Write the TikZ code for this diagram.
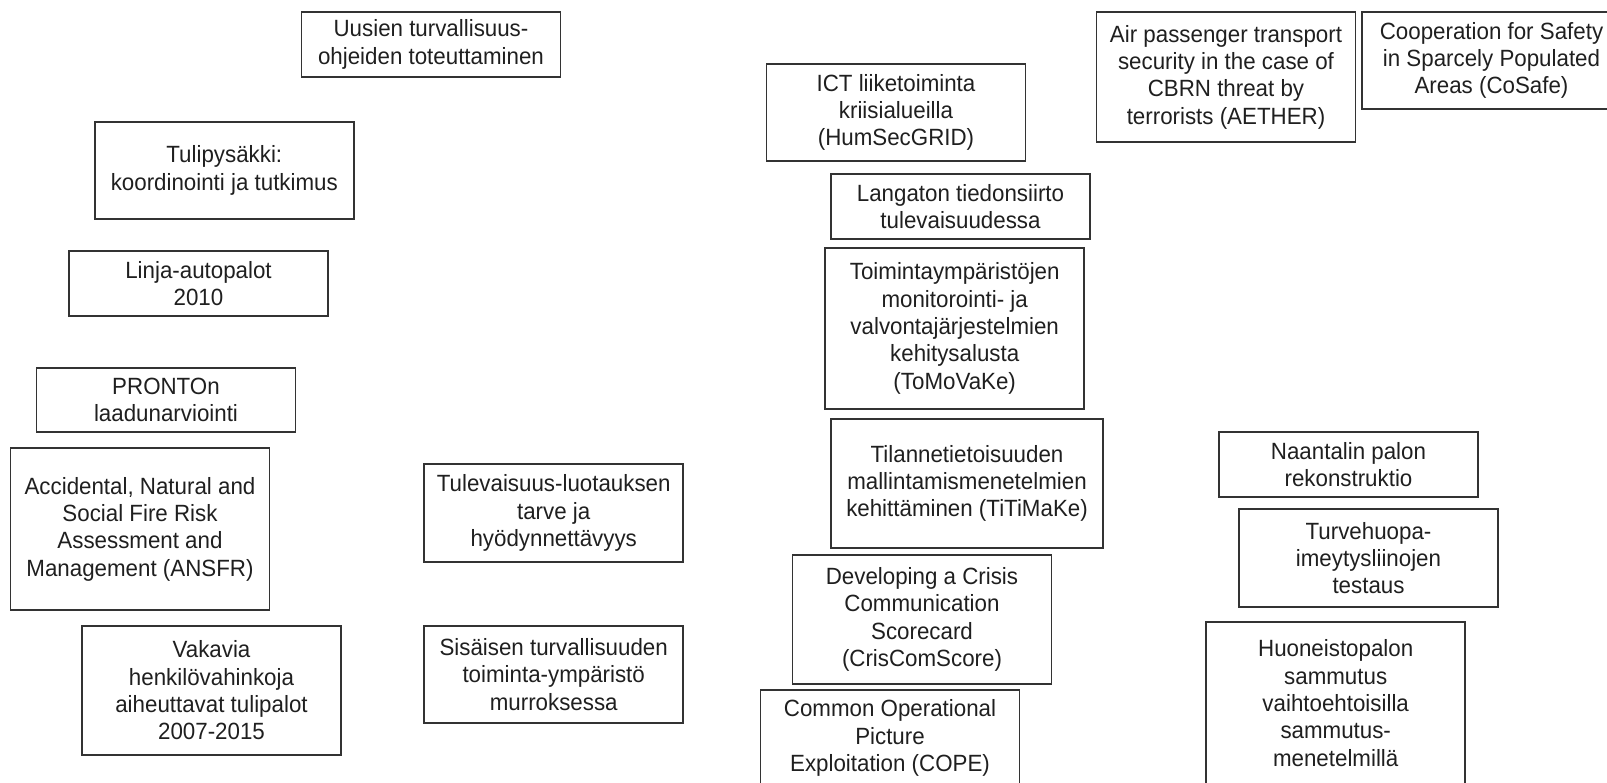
\documentclass[tikz,border=0pt]{standalone}
\usepackage{fontspec}
\setmainfont{Liberation Sans}[FakeStretch=0.95]
\begin{document}
\begin{tikzpicture}[x=1pt,y=-1pt,
  box/.style={draw=black!80, line width=1.5pt, rectangle, inner sep=0pt, align=center,
    text=black!88, font=\fontsize{23.5}{27.3}\selectfont},
  w259/.style={minimum width=259pt}]
\useasboundingbox (0,0) rectangle (1607,783);
\clip (0,0) rectangle (1607,783);
% left column
\node[box, w259, minimum height=65pt] (uusien) at (431,44.5) {Uusien turvallisuus-\\ohjeiden toteuttaminen};
\node[box, w259, minimum height=97pt] (tuli) at (224.3,170.5) {Tulipysäkki:\\koordinointi ja tutkimus};
\node[box, w259, minimum height=65pt] (linja) at (198.5,283.5) {Linja-autopalot\\2010};
\node[box, w259, minimum height=64pt] (pronto) at (166,400) {PRONTOn\\laadunarviointi};
\node[box, w259, minimum height=162pt] (ansfr) at (140,529) {Accidental, Natural and\\Social Fire Risk\\Assessment and\\Management (ANSFR)};
\node[box, w259, minimum height=129pt] (vakavia) at (211.5,690.5) {Vakavia\\henkilövahinkoja\\aiheuttavat tulipalot\\2007-2015};
\node[box, w259, minimum height=98pt] (tulev) at (553.7,513) {Tulevaisuus-luotauksen\\tarve ja\\hyödynnettävyys};
\node[box, w259, minimum height=97pt] (sisa) at (553.7,674.5) {Sisäisen turvallisuuden\\toiminta-ympäristö\\murroksessa};
% middle column
\node[box, w259, minimum height=97pt] (ict) at (896,112.5) {ICT liiketoiminta\\kriisialueilla\\(HumSecGRID)};
\node[box, w259, minimum height=65pt] (langaton) at (960.5,206.5) {Langaton tiedonsiirto\\tulevaisuudessa};
\node[box, w259, minimum height=161pt] (toiminta) at (954.7,328.5) {Toimintaympäristöjen\\monitorointi- ja\\valvontajärjestelmien\\kehitysalusta\\(ToMoVaKe)};
\node[box, minimum width=272pt, minimum height=129pt] (tilanne) at (967,483.5) {Tilannetietoisuuden\\mallintamismenetelmien\\kehittäminen (TiTiMaKe)};
\node[box, w259, minimum height=129pt] (dev) at (922,619.5) {Developing a Crisis\\Communication\\Scorecard\\(CrisComScore)};
\node[box, w259, minimum height=96pt] (cope) at (890,738) {Common Operational\\Picture\\Exploitation (COPE)};
% right column
\node[box, w259, minimum height=130pt] (aether) at (1226,77) {Air passenger transport\\security in the case of\\CBRN threat by\\terrorists (AETHER)};
\node[box, w259, minimum height=97pt] (cosafe) at (1491.5,60.5) {Cooperation for Safety\\in Sparcely Populated\\Areas (CoSafe)};
\node[box, w259, minimum height=65pt] (naantali) at (1348.5,464.5) {Naantalin palon\\rekonstruktio};
\node[box, w259, minimum height=98pt] (turve) at (1368.5,558) {Turvehuopa-\\imeytysliinojen\\testaus};
\node[box, w259, minimum height=162pt] (huon) at (1335.7,703) {Huoneistopalon\\sammutus\\vaihtoehtoisilla\\sammutus-\\menetelmillä};
\end{tikzpicture}
\end{document}
